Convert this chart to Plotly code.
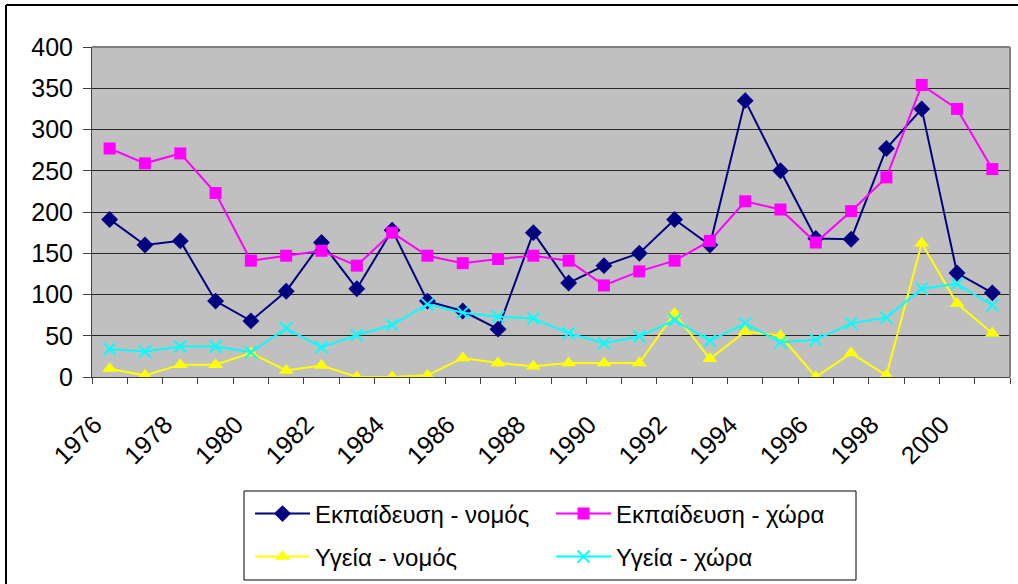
import plotly.graph_objects as go

years = list(range(1976, 2002))
edu_nomos = [191, 160, 165, 92, 68, 104, 163, 107, 178, 92, 80, 58, 175, 114, 135, 150, 191,
             160, 335, 250, 168, 167, 277, 325, 126, 102]
edu_xora = [277, 259, 271, 223, 141, 147, 153, 135, 175, 147, 138, 143, 147, 141, 111, 128, 141,
            165, 213, 203, 163, 201, 242, 354, 325, 252]
ygeia_nomos = [10, 2, 15, 15, 29, 8, 14, 0, 0, 2, 23, 17, 13, 17, 17, 17, 77,
               22, 55, 50, 0, 29, 2, 162, 89, 53]
ygeia_xora = [34, 31, 37, 37, 30, 59, 36, 51, 63, 88, 78, 73, 71, 53, 41, 49, 69,
              44, 65, 42, 45, 65, 72, 107, 113, 87]
names = ["Εκπαίδευση - νομός", "Εκπαίδευση - χώρα", "Υγεία - νομός", "Υγεία - χώρα"]
tick_years = list(range(1976, 2001, 2))
y_ticks = list(range(0, 401, 50))

FONT = "Arial, Liberation Sans, sans-serif"
W, H = 1018, 584
L, R, T, B = 92, 8, 47, 207
PW, PH = W - L - R, H - T - B


def px(x):
    return (x - L) / PW


def py(y):
    return (H - B - y) / PH


fig = go.Figure()
fig.add_trace(go.Scatter(x=years, y=edu_nomos, name=names[0], mode="lines+markers",
                         line=dict(color="#000080", width=2),
                         marker=dict(symbol="diamond", size=13, color="#000080"),
                         legend="legend"))
fig.add_trace(go.Scatter(x=years, y=edu_xora, name=names[1], mode="lines+markers",
                         line=dict(color="#FF00FF", width=2),
                         marker=dict(symbol="square", size=12, color="#FF00FF"),
                         legend="legend"))
fig.add_trace(go.Scatter(x=years, y=ygeia_nomos, name=names[2], mode="lines+markers",
                         line=dict(color="#FFFF00", width=2),
                         marker=dict(symbol="triangle-up", size=13, color="#FFFF00"),
                         legend="legend2"))
fig.add_trace(go.Scatter(x=years, y=ygeia_xora, name=names[3], mode="lines+markers",
                         line=dict(color="#00FFFF", width=2),
                         marker=dict(symbol="x-thin", size=12, color="#00FFFF",
                                     line=dict(color="#00FFFF", width=2)),
                         legend="legend2"))

legend_common = dict(orientation="h", xanchor="left", yanchor="middle",
                     font=dict(family=FONT, size=24, color="#000000"),
                     bgcolor="rgba(0,0,0,0)", borderwidth=0,
                     entrywidth=231, entrywidthmode="pixels", itemwidth=55,
                     tracegroupgap=0)

fig.update_layout(
    width=W, height=H,
    margin=dict(l=L, r=R, t=T, b=B, autoexpand=False),
    paper_bgcolor="#FFFFFF",
    plot_bgcolor="#C0C0C0",
    font=dict(family=FONT, size=24, color="#000000"),
    showlegend=True,
    legend=dict(x=px(250), y=py(514), **legend_common),
    legend2=dict(x=px(250), y=py(557), **legend_common),
    xaxis=dict(
        range=[1975.5, 2001.5],
        tickmode="array", tickvals=tick_years, ticktext=[str(t) for t in tick_years],
        tickangle=-45, ticks="", showgrid=False, zeroline=False,
        showline=True, linecolor="#404040", linewidth=1,
        tickfont=dict(family=FONT, size=25, color="#000000"),
        ticklabelstandoff=22, ticklabelshift=-15,
        minor=dict(tick0=1975.5, dtick=1, ticks="outside", ticklen=6,
                   tickcolor="#404040", tickwidth=1, showgrid=False),
    ),
    yaxis=dict(
        range=[0, 400], tickmode="array", tickvals=y_ticks,
        ticks="outside", ticklen=8, tickcolor="#404040", tickwidth=1,
        showgrid=True, gridcolor="#262626", gridwidth=1,
        zeroline=False, showline=True, linecolor="#404040", linewidth=1,
        tickfont=dict(family=FONT, size=25, color="#000000"),
        ticklabelstandoff=5,
    ),
    shapes=[
        # plot-area frame (top and right)
        dict(type="line", xref="paper", yref="paper", x0=0, x1=1, y0=1, y1=1,
             line=dict(color="#808080", width=2)),
        dict(type="line", xref="paper", yref="paper", x0=1, x1=1, y0=0, y1=1,
             line=dict(color="#808080", width=2)),
        # outer chart border (left and top visible)
        dict(type="line", xref="paper", yref="paper", x0=px(6), x1=px(6), y0=py(5), y1=py(600),
             line=dict(color="#000000", width=2)),
        dict(type="line", xref="paper", yref="paper", x0=px(6), x1=px(1030), y0=py(5), y1=py(5),
             line=dict(color="#000000", width=2)),
        # legend box
        dict(type="rect", xref="paper", yref="paper", x0=px(244), x1=px(856), y0=py(491), y1=py(580),
             line=dict(color="#000000", width=1), fillcolor="rgba(0,0,0,0)"),
    ],
)

fig.write_html("out.html", config={"displayModeBar": False},
               post_script="document.body.style.margin='0';document.body.style.overflow='hidden';")
